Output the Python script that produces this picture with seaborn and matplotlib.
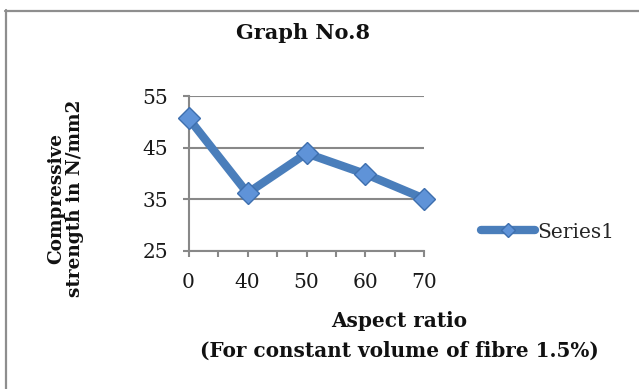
import matplotlib
matplotlib.use("Agg")
import matplotlib.pyplot as plt
import seaborn as sns
import pandas as pd
from matplotlib.lines import Line2D

# ---- data ----
aspect_ratio = ["0", "40", "50", "60", "70"]
strength = [50.7, 36.2, 43.9, 39.9, 35.1]
y_ticks = [25, 35, 45, 55]
series_name = "Series1"
title = "Graph No.8"
x_label_1 = "Aspect ratio"
x_label_2 = "(For constant volume of fibre 1.5%)"
y_label = "Compressive\nstrength in N/mm2"

sns.set_theme(style="white")
plt.rcParams['font.family'] = ['DejaVu Serif']

W, H = 639, 389
fig = plt.figure(figsize=(W / 100, H / 100), dpi=100)
ax = fig.add_axes([188.5 / W, 1 - 251 / H, 236 / W, 155 / H])

pos = list(range(len(aspect_ratio)))
df = pd.DataFrame({"pos": pos, "Strength": strength})
sns.lineplot(data=df, x="pos", y="Strength", ax=ax, sort=False,
             color="#4A7EBB", linewidth=6, marker="D", markersize=11.5,
             markerfacecolor="#5F93D8", markeredgecolor="#3E6FAE",
             markeredgewidth=1, legend=False)
line = ax.lines[0]
line.set_clip_on(False)
line.set_zorder(5)

grid_c = "#888888"
ax.set_xlim(0, len(aspect_ratio) - 1)
ax.set_ylim(min(y_ticks), max(y_ticks))
ax.set_yticks(y_ticks)
ax.set_xticks(pos)
ax.set_xticklabels(aspect_ratio)
ax.set_xticks([p + 0.5 for p in pos[:-1]], minor=True)
ax.yaxis.grid(True, color=grid_c, linewidth=1.5)
ax.xaxis.grid(False)
ax.set_axisbelow(True)
for s in ["top", "right"]:
    ax.spines[s].set_visible(False)
for s in ["left", "bottom"]:
    ax.spines[s].set_visible(True)
    ax.spines[s].set_color(grid_c)
    ax.spines[s].set_linewidth(1.5)
ax.tick_params(axis="both", which="both", direction="out", length=4.5,
               width=1.5, color=grid_c, bottom=True, left=True)
ax.tick_params(axis="x", which="major", labelsize=14.5, pad=11, labelcolor="#1a1a1a")
ax.tick_params(axis="y", which="major", labelsize=14.5, pad=10, labelcolor="#1a1a1a")
ax.set_xlabel("")
ax.set_ylabel("")

# titles
fig.text(303 / W, 1 - 39 / H, title, ha="center", va="baseline",
         fontsize=15, fontweight="bold", color="#111111")
fig.text(399 / W, 1 - 327 / H, x_label_1, ha="center", va="baseline",
         fontsize=14.4, fontweight="bold", color="#111111")
fig.text(399 / W, 1 - 357 / H, x_label_2, ha="center", va="baseline",
         fontsize=14.4, fontweight="bold", color="#111111")
fig.text(66 / W, 1 - 198 / H, y_label, ha="center", va="center",
         rotation=90, fontsize=13.3, fontweight="bold", color="#111111",
         multialignment="center", linespacing=1.05)

# legend
fig.legend([line], [series_name], loc="center left",
           bbox_to_anchor=(481 / W, 1 - 232 / H), frameon=False,
           borderpad=0, borderaxespad=0, handlelength=2.7,
           handletextpad=0.1, markerscale=0.6, fontsize=14.5)

# outer frame (top and left edges visible)
fig.add_artist(Line2D([5 / W, 1], [1 - 10.5 / H, 1 - 10.5 / H],
                      transform=fig.transFigure, color="#8E8E8E", linewidth=1.6))
fig.add_artist(Line2D([6 / W, 6 / W], [0, 1 - 10 / H],
                      transform=fig.transFigure, color="#8E8E8E", linewidth=1.6))

fig.savefig("out.png", dpi=100)
